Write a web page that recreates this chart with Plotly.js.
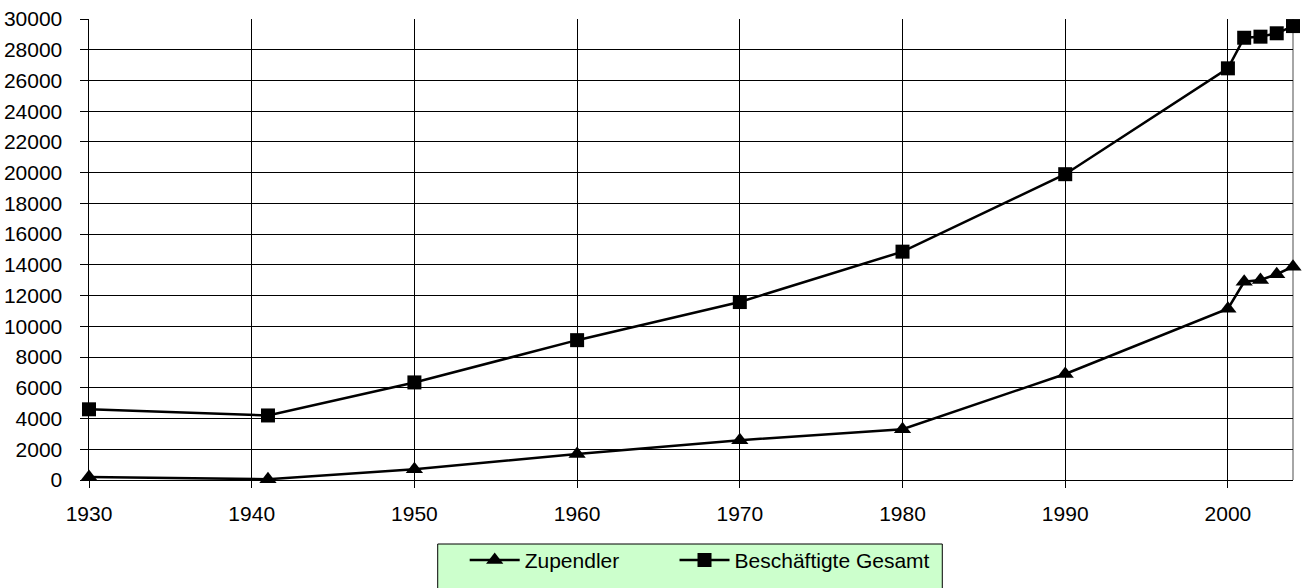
<!DOCTYPE html>
<html>
<head>
<meta charset="utf-8">
<script src="https://cdn.plot.ly/plotly-3.0.1.min.js"></script>
<style>html,body{margin:0;padding:0;background:#fff;}#chart{width:1303px;height:588px;}</style>
</head>
<body>
<div id="chart"></div>
<script>
var years = [1930, 1941, 1950, 1960, 1970, 1980, 1990, 2000, 2001, 2002, 2003, 2004];
var zupendler = [200, 50, 700, 1690, 2590, 3300, 6900, 11150, 12900, 13020, 13390, 13880];
var gesamt = [4600, 4200, 6350, 9100, 11580, 14860, 19900, 26790, 28780, 28850, 29070, 29540];
var seriesNames = ['Zupendler', 'Beschäftigte Gesamt'];
var xTicks = [1930, 1940, 1950, 1960, 1970, 1980, 1990, 2000];
var yTicks = [0, 2000, 4000, 6000, 8000, 10000, 12000, 14000, 16000, 18000, 20000, 22000, 24000, 26000, 28000, 30000];

var traces = [
  {x: years, y: zupendler, name: seriesNames[0], type: 'scatter', mode: 'lines+markers', legend: 'legend',
   line: {color: '#000', width: 2.5}, marker: {symbol: 'triangle-up', size: 15, color: '#000'}, cliponaxis: false},
  {x: years, y: gesamt, name: seriesNames[1], type: 'scatter', mode: 'lines+markers', legend: 'legend2',
   line: {color: '#000', width: 2.5}, marker: {symbol: 'square', size: 14, color: '#000'}, cliponaxis: false}
];

var legendCommon = {orientation: 'h', y: -0.130, xanchor: 'left', yanchor: 'top',
  bgcolor: 'rgba(0,0,0,0)', borderwidth: 0, itemwidth: 50,
  font: {family: 'Liberation Sans, Arial, sans-serif', size: 21, color: '#000'}};

var layout = {
  width: 1303, height: 588,
  margin: {l: 89, r: 10, t: 19, b: 108, autoexpand: false},
  paper_bgcolor: '#fff', plot_bgcolor: '#fff',
  font: {family: 'Liberation Sans, Arial, sans-serif', size: 21, color: '#000'},
  showlegend: true,
  legend: Object.assign({}, legendCommon, {x: (465 - 89) / 1205}),
  legend2: Object.assign({}, legendCommon, {x: (675 - 89) / 1205}),
  xaxis: {range: [1930, 2004], tickvals: xTicks, ticktext: xTicks.map(String),
    showgrid: true, gridcolor: '#000', gridwidth: 1, zeroline: false,
    showline: true, linecolor: '#000', linewidth: 1,
    ticks: 'outside', ticklen: 7, tickcolor: '#000', ticklabelstandoff: 8, fixedrange: true},
  yaxis: {range: [0, 30000], tickvals: yTicks, ticktext: yTicks.map(String),
    showgrid: true, gridcolor: '#000', gridwidth: 1, zeroline: false,
    showline: true, linecolor: '#000', linewidth: 1.5,
    ticks: 'outside', ticklen: 8, tickcolor: '#000', ticklabelstandoff: 13, fixedrange: true},
  shapes: [
    {type: 'line', xref: 'paper', yref: 'paper', x0: 1, x1: 1, y0: 0, y1: 1,
     line: {color: '#888', width: 1.5}, layer: 'below'},
    {type: 'rect', xref: 'paper', yref: 'paper', x0: (438 - 89) / 1205, x1: (943 - 89) / 1205,
     y0: -(610 - 480) / 461, y1: -(544 - 480) / 461,
     fillcolor: '#ccffcc', line: {color: '#000', width: 1}, layer: 'above'}
  ]
};
Plotly.newPlot('chart', traces, layout, {displayModeBar: false, staticPlot: true});
</script>
</body>
</html>
